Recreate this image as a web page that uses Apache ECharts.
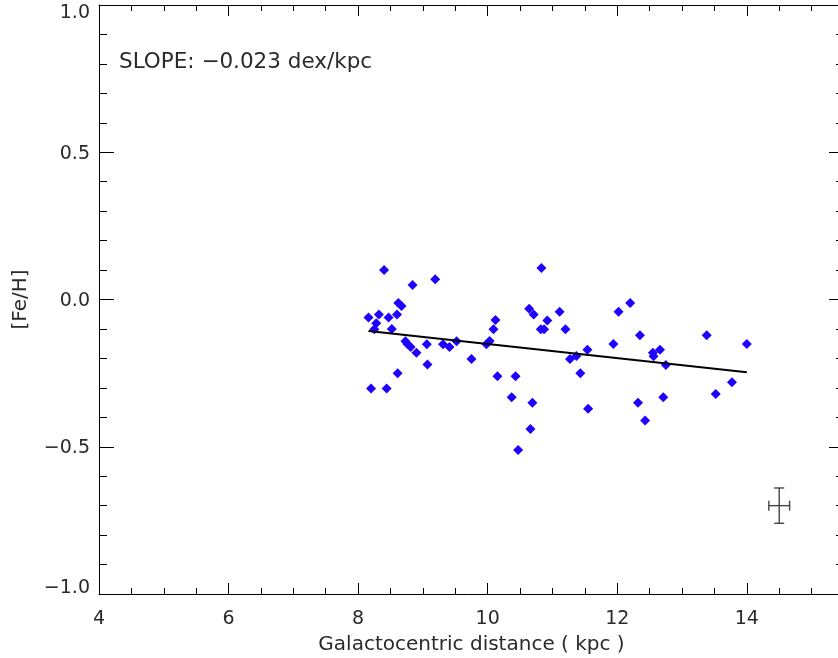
<!DOCTYPE html>
<html>
<head>
<meta charset="utf-8">
<script src="https://cdn.jsdelivr.net/npm/echarts@6/dist/echarts.min.js"></script>
<style>
html,body{margin:0;padding:0;background:#fff;}
#chart{width:838px;height:658px;}
</style>
</head>
<body>
<div id="chart"></div>
<script>
// Galactocentric distance (kpc)
const distKpc = [8.40,9.19,8.84,8.62,8.67,8.16,8.32,8.47,8.60,8.28,8.25,8.52,8.73,8.76,8.81,8.90,9.06,9.31,9.41,9.52,9.75,9.07,8.61,8.20,8.44,10.83,10.64,10.71,11.11,10.12,10.09,10.92,10.82,10.87,11.20,9.98,10.03,11.54,11.37,11.27,11.43,10.15,10.43,10.37,10.69,11.55,10.66,10.47,12.20,12.02,12.35,11.94,13.38,14.00,12.55,12.56,12.66,12.75,13.77,13.52,12.32,12.71,12.43];
// [Fe/H]
const feH = [0.100,0.069,0.049,-0.012,-0.022,-0.061,-0.051,-0.061,-0.051,-0.081,-0.101,-0.100,-0.142,-0.151,-0.161,-0.181,-0.152,-0.152,-0.161,-0.142,-0.202,-0.221,-0.250,-0.302,-0.302,0.107,-0.031,-0.051,-0.042,-0.070,-0.101,-0.071,-0.101,-0.101,-0.101,-0.152,-0.141,-0.171,-0.192,-0.202,-0.250,-0.261,-0.261,-0.332,-0.351,-0.371,-0.440,-0.511,-0.012,-0.042,-0.121,-0.151,-0.121,-0.151,-0.181,-0.193,-0.171,-0.222,-0.281,-0.321,-0.351,-0.332,-0.411];
// Linear fit endpoints
const fitX = [8.16, 14.0];
const fitY = [-0.107, -0.247];
// Typical error bar
const errX = [14.5];
const errY = [-0.70];
const errDx = [0.16];
const errDy = [0.06];
// Axis ticks
const xTicks = [4, 6, 8, 10, 12, 14];
const yTicks = [-1.0, -0.5, 0.0, 0.5, 1.0];
const slopeText = 'SLOPE: \u22120.023 dex/kpc';

const FONT = 'DejaVu Sans';
const TXT = '#2a2a2a';
const scatterData = distKpc.map((x, i) => [x, feH[i]]);
const fitData = fitX.map((x, i) => [x, fitY[i]]);
const errData = errX.map((x, i) => [x, errY[i], errDx[i], errDy[i]]);

function fmtY(v) {
  const s = Math.abs(v).toFixed(1);
  let t = (v < -1e-9 ? '\u2212' : '') + s;
  if (Math.abs(v - 1) < 1e-9) return '{top|' + t + '}';
  if (Math.abs(v + 1) < 1e-9) return '{bot|' + t + '}';
  return '{mid|' + t + '}';
}
const labStyle = {fontFamily: FONT, fontSize: 19, color: TXT};

const axisLineStyle = {show: true, onZero: false, lineStyle: {color: '#000', width: 1}};
const majorX = (pos, showLab) => ({
  type: 'value', position: pos, min: 4, max: 15.5, interval: 2, gridIndex: 0,
  axisLine: axisLineStyle,
  axisTick: {show: true, inside: true, length: 11, lineStyle: {color: '#000', width: 1}},
  axisLabel: showLab ? {
    show: true, margin: 16, fontFamily: FONT, fontSize: 19, color: TXT, showMaxLabel: false,
    formatter: v => (xTicks.indexOf(v) >= 0 ? String(v) : '')
  } : {show: false},
  splitLine: {show: false},
  name: showLab ? 'Galactocentric distance ( kpc )' : '',
  nameLocation: 'middle', nameGap: 41,
  nameTextStyle: {fontFamily: FONT, fontSize: 20, color: TXT}
});
const minorX = (pos) => ({
  type: 'value', position: pos, min: 4, max: 15.5, interval: 0.5, gridIndex: 0,
  axisLine: {show: false, onZero: false},
  axisTick: {show: true, inside: true, length: 6, lineStyle: {color: '#000', width: 1}},
  axisLabel: {show: false}, splitLine: {show: false}
});
const yAx = (pos, showLab) => ({
  type: 'value', position: pos, min: -1, max: 1, interval: 0.5, gridIndex: 0,
  axisLine: axisLineStyle,
  axisTick: {show: true, inside: true, length: 15, lineStyle: {color: '#000', width: 1}},
  minorTick: {show: true, splitNumber: 5, length: 8, lineStyle: {color: '#000', width: 1}},
  axisLabel: showLab ? {
    show: true, margin: 9, formatter: fmtY,
    rich: {
      top: Object.assign({padding: [16, 0, 0, 0]}, labStyle),
      bot: Object.assign({padding: [0, 0, 12, 0]}, labStyle),
      mid: Object.assign({padding: [3, 0, 0, 0]}, labStyle)
    }
  } : {show: false},
  splitLine: {show: false},
  name: showLab ? '[Fe/H]' : '',
  nameLocation: 'middle', nameGap: 68, nameRotate: 90,
  nameTextStyle: {fontFamily: FONT, fontSize: 20, color: TXT}
});

const chart = echarts.init(document.getElementById('chart'), null, {renderer: 'canvas'});
chart.setOption({
  animation: false,
  backgroundColor: '#fff',
  title: {
    text: slopeText, left: 114, top: 46,
    textStyle: {fontFamily: FONT, fontSize: 21.5, fontWeight: 'normal', color: TXT}
  },
  grid: {left: 99, right: -6, top: 5, bottom: 64, containLabel: false, outerBoundsMode: 'none'},
  xAxis: [majorX('bottom', true), minorX('bottom'), majorX('top', false), minorX('top')],
  yAxis: [yAx('left', true), yAx('right', false)],
  series: [
    {
      type: 'scatter', xAxisIndex: 0, yAxisIndex: 0,
      data: scatterData, symbol: 'diamond', symbolSize: 10,
      itemStyle: {color: '#1e00ff', opacity: 1}, z: 3
    },
    {
      type: 'line', xAxisIndex: 0, yAxisIndex: 0,
      data: fitData, showSymbol: false, symbol: 'none',
      lineStyle: {color: '#000', width: 2}, z: 4
    },
    {
      type: 'custom', xAxisIndex: 0, yAxisIndex: 0, data: errData,
      renderItem: function (params, api) {
        const x = api.value(0), y = api.value(1), dx = api.value(2), dy = api.value(3);
        const c = api.coord([x, y]);
        const l = api.coord([x - dx, y]);
        const r = api.coord([x + dx, y]);
        const t = api.coord([x, y + dy]);
        const b = api.coord([x, y - dy]);
        const cap = 5;
        const st = {stroke: '#444', lineWidth: 1.4};
        return {
          type: 'group',
          children: [
            {type: 'line', shape: {x1: l[0], y1: c[1], x2: r[0], y2: c[1]}, style: st},
            {type: 'line', shape: {x1: c[0], y1: t[1], x2: c[0], y2: b[1]}, style: st},
            {type: 'line', shape: {x1: l[0], y1: c[1] - cap, x2: l[0], y2: c[1] + cap}, style: st},
            {type: 'line', shape: {x1: r[0], y1: c[1] - cap, x2: r[0], y2: c[1] + cap}, style: st},
            {type: 'line', shape: {x1: c[0] - cap, y1: t[1], x2: c[0] + cap, y2: t[1]}, style: st},
            {type: 'line', shape: {x1: c[0] - cap, y1: b[1], x2: c[0] + cap, y2: b[1]}, style: st}
          ]
        };
      },
      z: 5
    }
  ]
});
</script>
</body>
</html>
